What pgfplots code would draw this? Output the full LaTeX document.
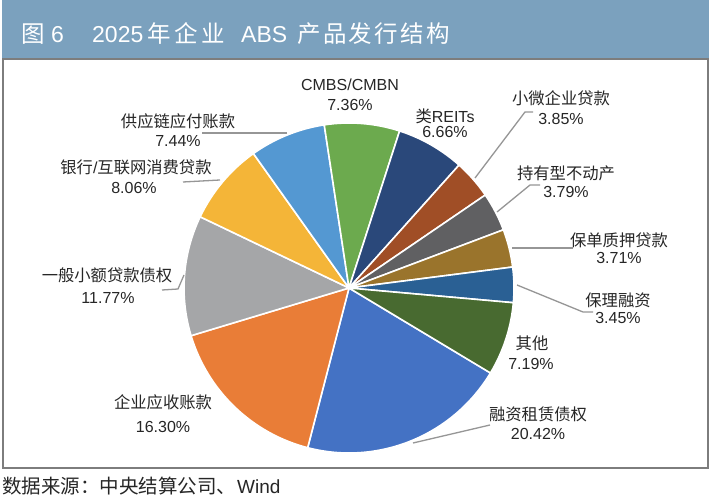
\documentclass[border=0pt]{standalone}
\usepackage{pgfplots}
\pgfplotsset{compat=1.18}
\usepackage{pgfplotstable}
\usepackage{fontspec}
\setmainfont{Liberation Sans}
\newfontfamily\cjk{Noto Sans CJK SC}

\definecolor{banner}{RGB}{123,161,190}
\definecolor{labelc}{RGB}{38,38,38}
\definecolor{leaderc}{RGB}{150,150,150}
\definecolor{panelc}{RGB}{125,125,125}
\definecolor{cA}{RGB}{68,114,196}
\definecolor{cB}{RGB}{233,125,55}
\definecolor{cC}{RGB}{165,166,168}
\definecolor{cD}{RGB}{244,181,56}
\definecolor{cE}{RGB}{84,152,210}
\definecolor{cF}{RGB}{108,170,78}
\definecolor{cG}{RGB}{42,72,122}
\definecolor{cH}{RGB}{160,78,38}
\definecolor{cI}{RGB}{96,96,98}
\definecolor{cJ}{RGB}{154,116,44}
\definecolor{cK}{RGB}{42,96,148}
\definecolor{cL}{RGB}{72,106,48}

% shares in percent, clockwise from the first slice
\pgfplotstableread{
key value col
FinLease 20.42 cA
Receivable 16.30 cB
SmallLoan 11.77 cC
ConsumerLoan 8.06 cD
SupplyChain 7.44 cE
CMBS 7.36 cF
REITs 6.66 cG
SME 3.85 cH
Property 3.79 cI
PolicyLoan 3.71 cJ
Factoring 3.45 cK
Other 7.19 cL
}\piedata

\tikzset{
  lbl/.style={inner sep=0pt, text=labelc, font=\fontsize{16}{19}\selectfont},
  lblc/.style={inner sep=0pt, text=labelc, font=\cjk\fontsize{16.3}{19}\selectfont},
  leader/.style={draw=leaderc, line width=1.3pt, line join=round},
  tc/.style={font=\cjk\fontsize{23.5}{28}\selectfont},
  tl/.style={font=\fontsize{23}{28}\selectfont},
}

\begin{document}
\begin{tikzpicture}
\useasboundingbox (0,0) rectangle (711pt,500pt);
\fill[white] (0,0) rectangle (711pt,500pt);
\begin{scope}[yshift=500pt, x=1pt, y=-1pt]
  \fill[banner] (2,0) rectangle (709,59);
  \draw[panelc, line width=1.2pt] (3,59) rectangle (708,468);
\end{scope}

\begin{axis}[at={(0pt,0pt)}, anchor=south west, x=1pt, y=1pt,
  xmin=0, xmax=711, ymin=0, ymax=500, hide axis, clip=false]
\pgfplotsextra{%
  \xdef\angA{-31}%
  \pgfplotsforeachungrouped \i in {0,...,11}{%
    \pgfplotstablegetelem{\i}{value}\of\piedata \let\val\pgfplotsretval
    \pgfplotstablegetelem{\i}{col}\of\piedata \let\col\pgfplotsretval
    \pgfmathsetmacro{\angB}{\angA-3.6*\val}%
    \fill[fill=\col, draw=white, line width=1.6pt, line join=round]
      (axis cs:349,212) -- ++(\angA:165pt)
      arc[start angle=\angA, end angle=\angB, radius=165pt] -- cycle;
    \xdef\angA{\angB}%
  }%
}
\end{axis}

\begin{scope}[yshift=500pt, x=1pt, y=-1pt]
  % title
  \begin{scope}[every node/.style={inner sep=0pt, text=white, anchor=base west}]
    \node[tc] at (21,43) {图};
    \node[tl] at (51,43) {6};
    \node[tl] at (92,43) {2025};
    \node[tc] at (147,43) {年};
    \node[tc] at (174,43) {企};
    \node[tc] at (201,43) {业};
    \node[tl] at (241,43) {ABS};
    \node[tc] at (297,43) {产};
    \node[tc] at (322.8,43) {品};
    \node[tc] at (348.6,43) {发};
    \node[tc] at (374.4,43) {行};
    \node[tc] at (400.2,43) {结};
    \node[tc] at (426,43) {构};
  \end{scope}
  % source
  \node[inner sep=0pt, anchor=base west, text=labelc, font=\cjk\fontsize{19.5}{24}\selectfont] at (2,493) {数据来源：中央结算公司、};
  \node[inner sep=0pt, anchor=base west, text=labelc, font=\fontsize{19}{24}\selectfont] at (237,493) {Wind};

  % leader lines
  \draw[leader] (475,178) -- (525,112) -- (533,112);
  \draw[leader] (497,212) -- (530,185) -- (540,185);
  \draw[leader] (512,248) -- (573,248);
  \draw[leader] (517,285) -- (583,312) -- (593,312);
  \draw[leader] (413,443) -- (490,425);
  \draw[leader] (184,275) -- (178,289) -- (162,290);
  \draw[leader] (220,180) -- (183,182);
  \draw[leader] (287,133) -- (202,133);

  % labels
  \node[lbl] at (350,85) {CMBS/CMBN};
  \node[lbl] at (350,105) {7.36\%};
  \node[lbl] at (445,116) {{\cjk\fontsize{16.3}{19}\selectfont 类}REITs};
  \node[lbl] at (445,132) {6.66\%};
  \node[lblc] at (561,98) {小微企业贷款};
  \node[lbl] at (561,119) {3.85\%};
  \node[lblc] at (566,173) {持有型不动产};
  \node[lbl] at (566,192) {3.79\%};
  \node[lblc] at (619,240) {保单质押贷款};
  \node[lbl] at (619,258) {3.71\%};
  \node[lblc] at (618,300) {保理融资};
  \node[lbl] at (618,318) {3.45\%};
  \node[lblc] at (532,343) {其他};
  \node[lbl] at (531,364) {7.19\%};
  \node[lblc] at (538,414) {融资租赁债权};
  \node[lbl] at (538,434) {20.42\%};
  \node[lblc] at (163,402) {企业应收账款};
  \node[lbl] at (163,427) {16.30\%};
  \node[lblc] at (107,275) {一般小额贷款债权};
  \node[lbl] at (108,298) {11.77\%};
  \node[lbl] at (136,167) {{\cjk\fontsize{16.3}{19}\selectfont 银行}/{\cjk\fontsize{16.3}{19}\selectfont 互联网消费贷款}};
  \node[lbl] at (134,188) {8.06\%};
  \node[lblc] at (178,121) {供应链应付账款};
  \node[lbl] at (178,141) {7.44\%};
\end{scope}
\end{tikzpicture}
\end{document}
